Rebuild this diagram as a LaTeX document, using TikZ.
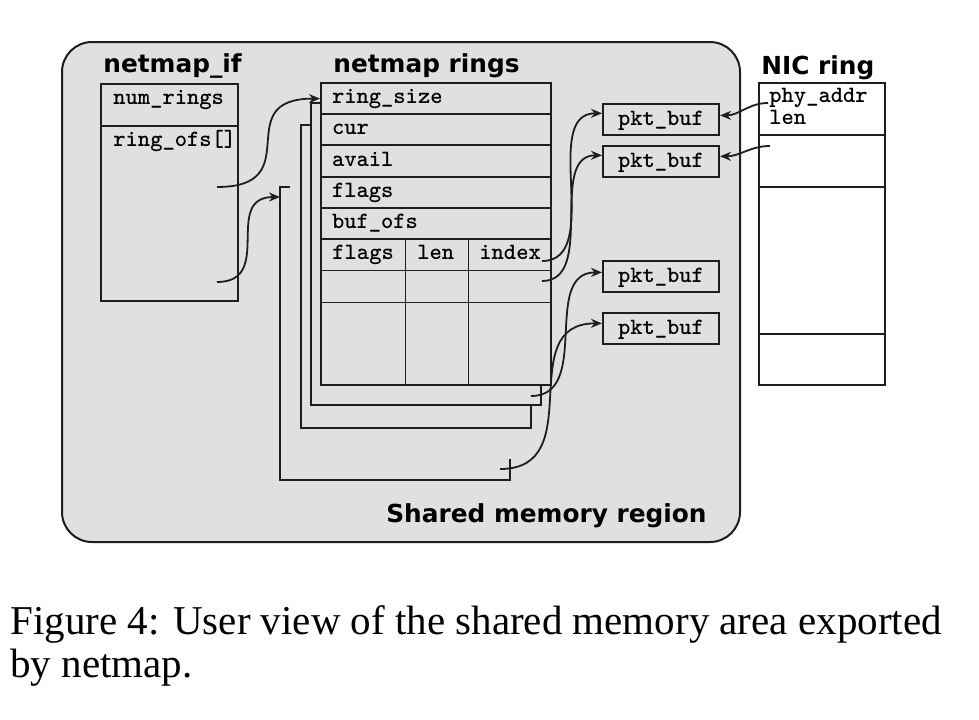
\documentclass[tikz,border=0pt]{standalone}
\usepackage{fontspec}
\setmainfont{Liberation Serif}
\newfontfamily\lblfont{DejaVu Sans}
\usetikzlibrary{arrows.meta}
\definecolor{shm}{RGB}{224,224,224}
\definecolor{ln}{RGB}{30,30,30}
\newcommand{\mono}{\ttfamily\bfseries\fontsize{11.7}{11}\selectfont}

\begin{document}
\begin{tikzpicture}[x=0.5pt, y=-0.5pt]
		\tikzset{ttl/.style={font=\lblfont\bfseries\fontsize{12.4}{14}\selectfont, inner sep=0pt}};
		\tikzset{fld/.style={font=\mono, inner sep=0pt, anchor=base west}};
		\tikzset{box/.style={draw=ln, line width=1pt}};
		\tikzset{row/.style={box, fill=shm, minimum width=115pt, minimum height=15.625pt, inner xsep=5.5pt, inner ysep=0pt, text width=104pt, align=left, text height=7.5pt, text depth=2.5pt, font=\mono}};
		\tikzset{buf/.style={box, fill=shm, minimum width=58pt, minimum height=15.5pt, inner sep=0pt, text height=7.5pt, text depth=2pt, font=\mono}};
		\tikzset{thin/.style={draw=ln, line width=0.5pt}};
		\tikzset{ptr/.style={draw=ln, line width=0.9pt, -{Stealth[length=5.5pt,width=4.5pt]}}};

		\useasboundingbox[fill=white] (0,0) rectangle (979,719);

		\draw[box, fill=shm, rounded corners=15pt] (62,42) rectangle (740,542);
		\node[ttl, anchor=base east] (shmlbl) at (707,522) {Shared memory region};

		\node[ttl, anchor=base west] (niftl) at (103,72) {netmap\_if};
		\node[ttl, anchor=base west] (ringtl) at (333,72) {netmap rings};
		\node[ttl, anchor=base west] (nictl) at (761,74) {NIC ring};

		\draw[box] (101,84) rectangle (238,301);
		\draw[box] (101,126) -- (238,126);
		\node[fld] (nrings) at (113,104) {num\_rings};
		\node[fld] (rofs) at (113,146) {ring\_ofs[]};

		\draw[box] (290,187) -- (280,187) -- (280,480) -- (510,480) -- (510,459);
		\draw[box, fill=shm] (301,125) rectangle (531,428);
		\draw[box, fill=shm] (311,103) rectangle (541,405);
		\draw[box, fill=shm] (321,83) rectangle (551,385);

		\node[row] (rsz) at (436,98.6) {ring\_size};
		\node[row] (cur) at (436,129.9) {cur};
		\node[row] (avail) at (436,161.1) {avail};
		\node[row] (flags) at (436,192.4) {flags};
		\node[row] (bofs) at (436,223.6) {buf\_ofs};

		\draw[thin] (321,270.5) -- (551,270.5);
		\draw[thin] (321,302) -- (551,302);
		\draw[thin] (405,239.25) -- (405,385);
		\draw[thin] (468,239.25) -- (468,385);
		\node[fld] (sflags) at (332,259) {flags};
		\node[fld] (slen) at (417,259) {len};
		\node[fld] (sidx) at (479,259) {index};

		\node[buf] (pkt1) at (661,119.5) {pkt\_buf};
		\node[buf] (pkt2) at (661,161.5) {pkt\_buf};
		\node[buf] (pkt3) at (661,276.5) {pkt\_buf};
		\node[buf] (pkt4) at (661,328.5) {pkt\_buf};

		\draw[box, fill=white] (759,83) rectangle (885,385);
		\draw[box] (759,135) -- (885,135);
		\draw[box] (759,187) -- (885,187);
		\draw[box] (759,334) -- (885,334);
		\node[fld, align=left] (phy) at (769,124) {phy\_addr\\len};

		\coordinate (ofs0) at (217,187);
		\coordinate (ofs1) at (217,282);
		\coordinate (ring4) at (280,197);
		\coordinate (slot0) at (542,261);
		\coordinate (slot1) at (542,281);
		\coordinate (ring2) at (531,396);
		\coordinate (ring4b) at (500,469);
		\coordinate (nic0) at (768,103);
		\coordinate (nic1) at (770,146);

		\draw[ptr] (ofs0) to[out=0, in=180, looseness=1.75] (rsz.west);
		\draw[ptr] (ofs1) to[out=0, in=180, looseness=1.4] (ring4);
		\draw[ptr] (slot0) to[out=0, in=180] (pkt1.174);
		\draw[ptr] (slot1) to[out=0, in=180] (pkt2.174.5);
		\draw[ptr] (ring2) to[out=0, in=180, looseness=1.1] (pkt3.176.5);
		\draw[ptr] (ring4b) to[out=0, in=180, looseness=1.3] (pkt4.175);
		\draw[ptr] (nic0) to[out=180, in=0] (pkt1.4.5);
		\draw[ptr] (nic1) to[out=180, in=0] (pkt2.5.5);

		\node[anchor=base west, align=left, inner sep=0pt, font=\fontsize{20.5}{21.5}\selectfont] (cap) at (10,677) {Figure 4: User view of the shared memory area exported\\by netmap.};
	\end{tikzpicture}
\end{document}
